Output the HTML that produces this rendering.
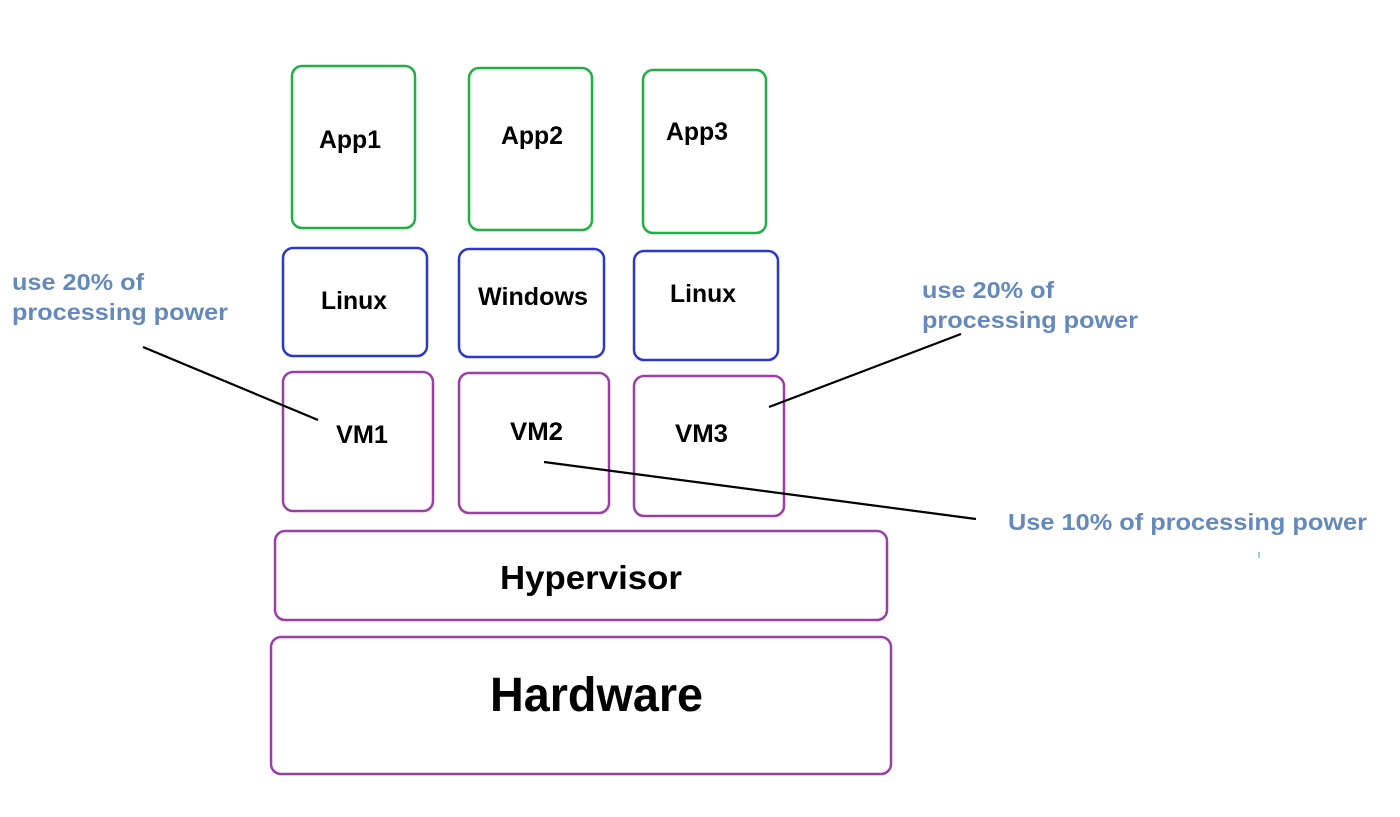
<!DOCTYPE html>
<html><head><meta charset="utf-8"><style>html,body{margin:0;padding:0;background:#fff;width:1400px;height:817px;overflow:hidden}</style></head>
<body>
<svg width="1400" height="817" viewBox="0 0 1400 817" xmlns="http://www.w3.org/2000/svg" font-family="Liberation Sans, Arial, sans-serif" font-weight="bold">
<g fill="none" stroke-width="2.5">
<g stroke="#1fb043">
<rect x="292" y="66" width="123" height="162" rx="10"/>
<rect x="469" y="68" width="123" height="162" rx="10"/>
<rect x="643" y="70" width="123" height="163" rx="10"/>
</g>
<g stroke="#2d37c8">
<rect x="283" y="248" width="144" height="108" rx="10"/>
<rect x="459" y="249" width="145" height="108" rx="10"/>
<rect x="634" y="251" width="144" height="109" rx="10"/>
</g>
<g stroke="#9a3fa6">
<rect x="283" y="372" width="150" height="139" rx="10"/>
<rect x="459" y="373" width="150" height="140" rx="10"/>
<rect x="634" y="376" width="150" height="140" rx="10"/>
<rect x="275" y="531" width="612" height="89" rx="10"/>
<rect x="271" y="637" width="620" height="137" rx="10"/>
</g>
</g>
<g stroke="#000" stroke-width="2.2">
<line x1="143" y1="347" x2="318" y2="420"/>
<line x1="769" y1="407" x2="961" y2="334"/>
<line x1="544" y1="462" x2="976" y2="519"/>
</g>
<g fill="#000" font-size="25">
<text x="319" y="148" textLength="62" lengthAdjust="spacingAndGlyphs">App1</text>
<text x="501" y="144" textLength="62" lengthAdjust="spacingAndGlyphs">App2</text>
<text x="666" y="140" textLength="62" lengthAdjust="spacingAndGlyphs">App3</text>
<text x="321" y="309" textLength="66" lengthAdjust="spacingAndGlyphs">Linux</text>
<text x="478" y="305" textLength="110" lengthAdjust="spacingAndGlyphs">Windows</text>
<text x="670" y="302" textLength="66" lengthAdjust="spacingAndGlyphs">Linux</text>
<text x="336" y="443" textLength="52" lengthAdjust="spacingAndGlyphs">VM1</text>
<text x="510" y="440" textLength="53" lengthAdjust="spacingAndGlyphs">VM2</text>
<text x="675" y="442" textLength="53" lengthAdjust="spacingAndGlyphs">VM3</text>
<text x="500" y="589" font-size="33" textLength="182" lengthAdjust="spacingAndGlyphs">Hypervisor</text>
<text x="490" y="711" font-size="48" textLength="213" lengthAdjust="spacingAndGlyphs">Hardware</text>
</g>
<g fill="#6589bc" font-size="23">
<text x="12" y="290" textLength="132" lengthAdjust="spacingAndGlyphs">use 20% of</text>
<text x="12" y="320" textLength="216" lengthAdjust="spacingAndGlyphs">processing power</text>
<text x="922" y="298" textLength="132" lengthAdjust="spacingAndGlyphs">use 20% of</text>
<text x="922" y="328" textLength="216" lengthAdjust="spacingAndGlyphs">processing power</text>
<text x="1008" y="530" textLength="359" lengthAdjust="spacingAndGlyphs">Use 10% of processing power</text>
</g>
<rect x="1258" y="552" width="2" height="6" fill="#8fd3dc"/>
</svg>
</body></html>
